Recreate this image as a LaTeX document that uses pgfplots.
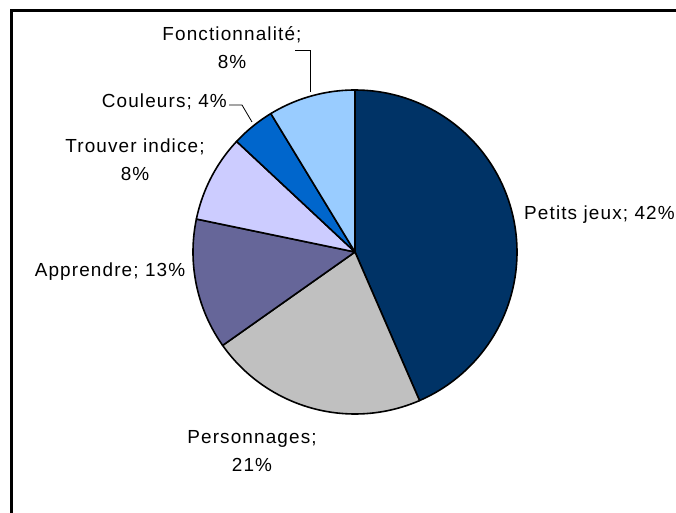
\documentclass[border=0pt]{standalone}
\usepackage{pgfplots}
\pgfplotsset{compat=1.18}
\usepackage{pgfplotstable}
\usepackage{fontspec}
\setmainfont{Liberation Sans}[LetterSpace=6]
\definecolor{cA}{HTML}{003366}
\definecolor{cB}{HTML}{C0C0C0}
\definecolor{cC}{HTML}{666699}
\definecolor{cD}{HTML}{CCCCFF}
\definecolor{cE}{HTML}{0066CC}
\definecolor{cF}{HTML}{99CCFF}
\pgfplotstableread{
cat count
PetitsJeux 10
Personnages 5
Apprendre 3
TrouverIndice 2
Couleurs 1
Fonctionnalite 2
}\piedata
\begin{document}
\begin{tikzpicture}
\pgfplotstablegetelem{0}{count}\of\piedata \edef\vA{\pgfplotsretval}
\pgfplotstablegetelem{1}{count}\of\piedata \edef\vB{\pgfplotsretval}
\pgfplotstablegetelem{2}{count}\of\piedata \edef\vC{\pgfplotsretval}
\pgfplotstablegetelem{3}{count}\of\piedata \edef\vD{\pgfplotsretval}
\pgfplotstablegetelem{4}{count}\of\piedata \edef\vE{\pgfplotsretval}
\pgfplotstablegetelem{5}{count}\of\piedata \edef\vF{\pgfplotsretval}
\pgfmathsetmacro\tot{\vA+\vB+\vC+\vD+\vE+\vF}
\pgfmathsetmacro\aA{90}
\pgfmathsetmacro\aB{\aA-360*\vA/\tot}
\pgfmathsetmacro\aC{\aB-360*\vB/\tot}
\pgfmathsetmacro\aD{\aC-360*\vC/\tot}
\pgfmathsetmacro\aE{\aD-360*\vD/\tot}
\pgfmathsetmacro\aF{\aE-360*\vE/\tot}
\pgfmathsetmacro\aG{\aF-360*\vF/\tot}
\def\cx{355}\def\cy{261}\def\rr{162}
\begin{axis}[
  scale only axis, width=676bp, height=513bp,
  xmin=0, xmax=676, ymin=0, ymax=513,
  hide axis, clip=false,
  every axis plot/.append style={draw=black, line width=1.6bp, samples=80, variable=\t, line join=round},
]
\addplot[fill=cA, domain=\aB:\aA] ({\cx+\rr*cos(\t)},{\cy+\rr*sin(\t)}) -- (axis cs:\cx,\cy) -- cycle;
\addplot[fill=cB, domain=\aC:\aB] ({\cx+\rr*cos(\t)},{\cy+\rr*sin(\t)}) -- (axis cs:\cx,\cy) -- cycle;
\addplot[fill=cC, domain=\aD:\aC] ({\cx+\rr*cos(\t)},{\cy+\rr*sin(\t)}) -- (axis cs:\cx,\cy) -- cycle;
\addplot[fill=cD, domain=\aE:\aD] ({\cx+\rr*cos(\t)},{\cy+\rr*sin(\t)}) -- (axis cs:\cx,\cy) -- cycle;
\addplot[fill=cE, domain=\aF:\aE] ({\cx+\rr*cos(\t)},{\cy+\rr*sin(\t)}) -- (axis cs:\cx,\cy) -- cycle;
\addplot[fill=cF, domain=\aG:\aF] ({\cx+\rr*cos(\t)},{\cy+\rr*sin(\t)}) -- (axis cs:\cx,\cy) -- cycle;
% frame
\draw[line width=3bp] (axis cs:11,0) -- (axis cs:11,502) -- (axis cs:676,502);
% leader lines
\draw[line width=0.8bp] (axis cs:229,408) -- (axis cs:242,408) -- (axis cs:252,391);
\draw[line width=0.8bp] (axis cs:295,463) -- (axis cs:310,463) -- (axis cs:310,421);
% labels
\begin{scope}[every node/.style={font=\fontsize{19}{28}\selectfont, align=center, inner sep=0pt}]
\node at (axis cs:232,465.5) {Fonctionnalité;\\8\%};
\node[anchor=east] at (axis cs:227,411) {Couleurs; 4\%};
\node at (axis cs:135,353) {Trouver indice;\\8\%};
\node at (axis cs:110,241) {Apprendre; 13\%};
\node at (axis cs:252,62) {Personnages;\\21\%};
\node[anchor=west] at (axis cs:524,298) {Petits jeux; 42\%};
\end{scope}
\end{axis}
\pgfresetboundingbox
\path (current axis.south west) rectangle (current axis.north east);
\end{tikzpicture}
\end{document}
